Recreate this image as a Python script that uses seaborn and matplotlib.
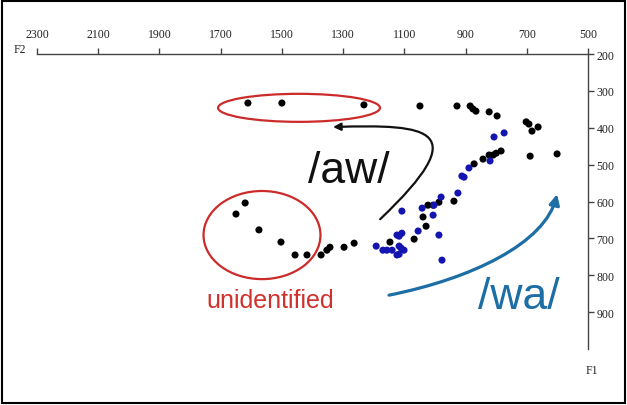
import seaborn as sns
import pandas as pd
import matplotlib.pyplot as plt
from matplotlib.patches import Ellipse, FancyArrowPatch, Rectangle
from matplotlib.path import Path

# valores (F2, F1 em Hz)
black_f2 = [1611, 1500, 1232, 1049, 928, 885, 876, 866, 823, 797, 702, 693, 663, 683,
            689, 601, 784, 800, 810, 823, 843, 872, 938, 987, 1006, 1023, 1039, 1029,
            1068, 1147, 1620, 1650, 1575, 1503, 1457, 1418, 1372, 1353, 1343, 1297, 1264]
black_f1 = [333, 333, 338, 341, 341, 341, 349, 355, 357, 368, 384, 390, 398, 409,
            477, 471, 463, 469, 474, 474, 485, 498, 599, 602, 610, 610, 642, 667,
            702, 710, 604, 634, 677, 710, 745, 745, 745, 732, 724, 724, 713]
blue_f2 = [774, 807, 820, 889, 912, 905, 925, 980, 1003, 1042, 1108, 1006, 1055, 987,
           1124, 1108, 1117, 1192, 1170, 1157, 1140, 1117, 1111, 1101, 1117, 1124, 977]
blue_f1 = [414, 425, 490, 509, 531, 534, 577, 588, 610, 618, 626, 637, 680, 691,
           691, 686, 694, 721, 732, 732, 732, 721, 726, 732, 743, 745, 759]

f2_ticks = [2300, 2100, 1900, 1700, 1500, 1300, 1100, 900, 700, 500]
f1_ticks = [200, 300, 400, 500, 600, 700, 800, 900]

df = pd.DataFrame({
    'F2': black_f2 + blue_f2,
    'F1': black_f1 + blue_f1,
    'grupo': ['aw'] * len(black_f2) + ['wa'] * len(blue_f2),
})

sns.set_style('white')
plt.rcParams['font.family'] = ['Liberation Sans', 'DejaVu Sans']

fig = plt.figure(figsize=(6.27, 4.06), dpi=100)
ax = fig.add_axes([37 / 627, 56 / 406, 551 / 627, 295 / 406])

sns.scatterplot(data=df, x='F2', y='F1', hue='grupo',
                palette={'aw': 'black', 'wa': '#1414b0'},
                s=26, edgecolor='none', legend=False, ax=ax)

ax.set_xlim(2300, 500)
ax.set_ylim(1000, 200)
ax.set_xlabel('')
ax.set_ylabel('')
ax.xaxis.tick_top()
ax.yaxis.tick_right()
ax.set_xticks(f2_ticks)
ax.set_yticks(f1_ticks)
for s in ['left', 'bottom']:
    ax.spines[s].set_visible(False)
for s in ['top', 'right']:
    ax.spines[s].set_color('#444444')
    ax.spines[s].set_linewidth(1.0)
ax.tick_params(axis='x', direction='out', length=4, width=1, color='#444444',
               pad=6, labelsize=8.5, labelcolor='#222222')
ax.tick_params(axis='y', direction='out', length=4, width=1, color='#444444',
               pad=2, labelsize=8.5, labelcolor='#222222')
for lab in ax.get_xticklabels() + ax.get_yticklabels():
    lab.set_family('Liberation Serif')

fig.text(20 / 627, 1 - 50 / 406, 'F2', fontsize=8.5, family='Liberation Serif',
         ha='center', va='center', color='#222222')
fig.text(592 / 627, 1 - 371 / 406, 'F1', fontsize=8.5, family='Liberation Serif',
         ha='center', va='center', color='#222222')

# elipses vermelhas
ax.add_patch(Ellipse((1444, 346), 529, 76, fill=False, ec='#cc2b2b', lw=1.6))
ax.add_patch(Ellipse((1565, 691), 382, 239, fill=False, ec='#cc2b2b', lw=1.6))

# seta preta /aw/
p_aw = Path([(1179, 648), (869, 403), (1016, 390), (1333, 398)],
            [Path.MOVETO, Path.CURVE4, Path.CURVE4, Path.CURVE4])
ax.add_patch(FancyArrowPatch(path=p_aw, arrowstyle='-|>', mutation_scale=11,
                             color='#111111', lw=1.6, shrinkA=0, shrinkB=0))

# seta azul /wa/
p_wa = Path([(1150, 854), (885, 810), (640, 715), (601, 580)],
            [Path.MOVETO, Path.CURVE4, Path.CURVE4, Path.CURVE4])
ax.add_patch(FancyArrowPatch(path=p_wa, arrowstyle='-|>', mutation_scale=15,
                             color='#1c6ea4', lw=2.3, shrinkA=0, shrinkB=0))

ax.text(1281, 515, '/aw/', fontsize=32, color='#111111', ha='center', va='center')
ax.text(725, 858, '/wa/', fontsize=32, color='#1c6ea4', ha='center', va='center')
ax.text(1539, 868, 'unidentified', fontsize=18, color='#d0312d', ha='center', va='center')

fig.add_artist(Rectangle((0.003, 0.004), 0.994, 0.992, transform=fig.transFigure,
                         fill=False, ec='black', lw=1.5))

plt.savefig('out.png', dpi=100)
